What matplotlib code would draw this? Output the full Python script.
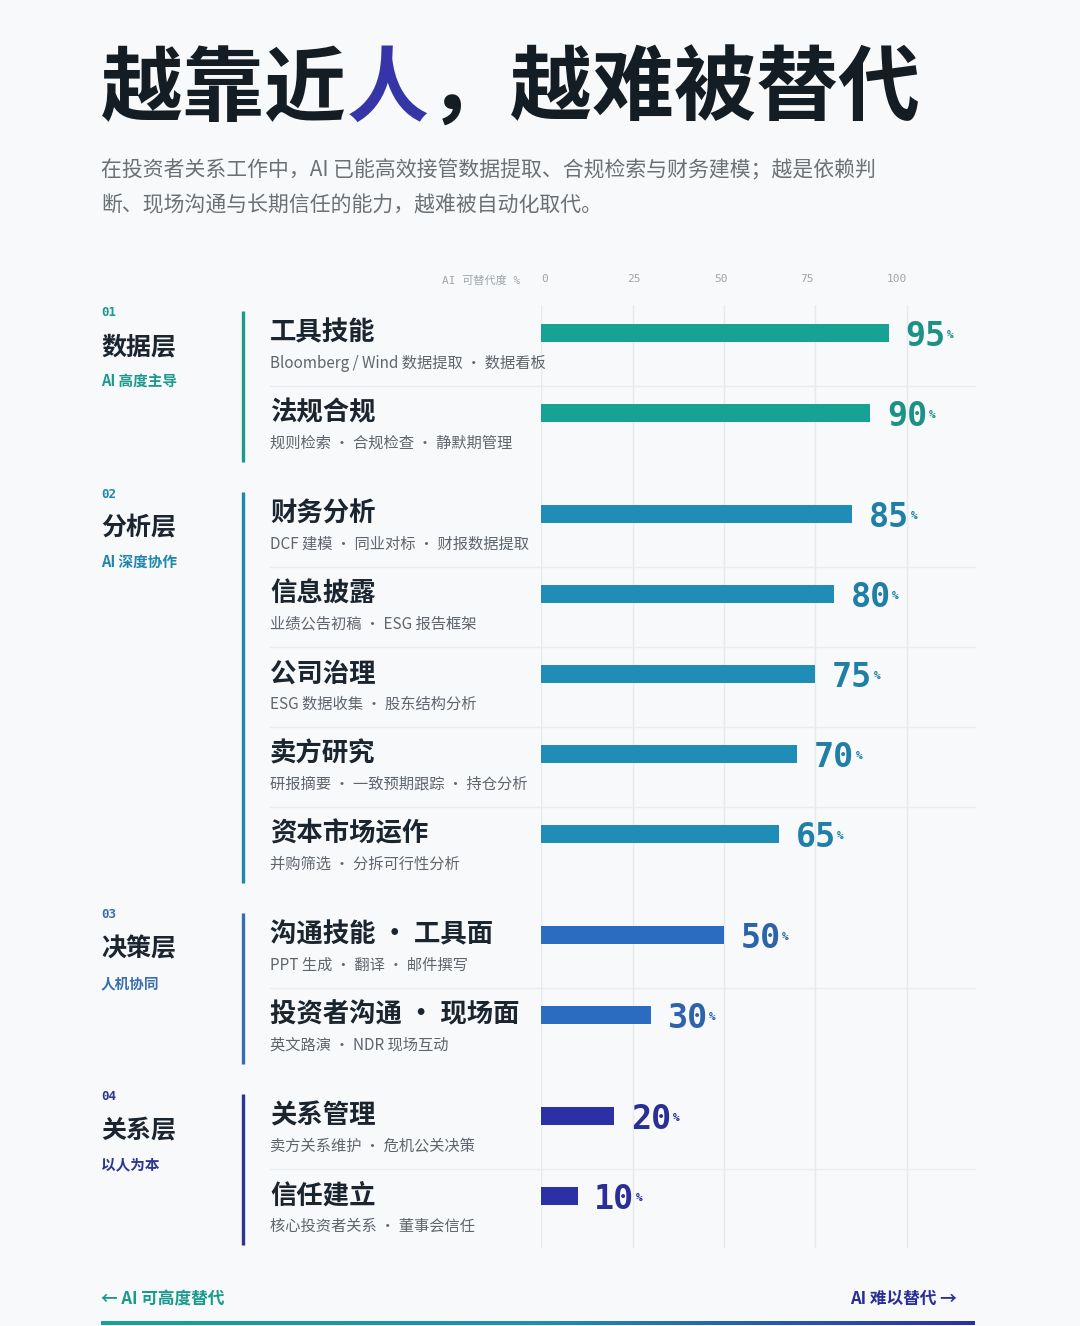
import matplotlib.pyplot as plt
import matplotlib.transforms as mtransforms
from matplotlib.colors import LinearSegmentedColormap
import numpy as np

plt.rcParams['font.family'] = ['Noto Sans CJK SC', 'DejaVu Sans']

W, H = 1080, 1326
BG = '#f7f9fa'
MONO = ['DejaVu Sans Mono', 'Noto Sans CJK SC']

# ---- data ----
group_codes = ['01', '02', '03', '04']
group_names = ['数据层', '分析层', '决策层', '关系层']
group_notes = ['AI 高度主导', 'AI 深度协作', '人机协同', '以人为本']
group_sizes = [2, 5, 2, 2]

skills = ['工具技能', '法规合规', '财务分析', '信息披露', '公司治理', '卖方研究',
          '资本市场运作', '沟通技能 · 工具面', '投资者沟通 · 现场面', '关系管理', '信任建立']
details = ['Bloomberg / Wind 数据提取 · 数据看板',
           '规则检索 · 合规检查 · 静默期管理',
           'DCF 建模 · 同业对标 · 财报数据提取',
           '业绩公告初稿 · ESG 报告框架',
           'ESG 数据收集 · 股东结构分析',
           '研报摘要 · 一致预期跟踪 · 持仓分析',
           '并购筛选 · 分拆可行性分析',
           'PPT 生成 · 翻译 · 邮件撰写',
           '英文路演 · NDR 现场互动',
           '卖方关系维护 · 危机公关决策',
           '核心投资者关系 · 董事会信任']
scores = [95, 90, 85, 80, 75, 70, 65, 50, 30, 20, 10]
ticks = [0, 25, 50, 75, 100]

bar_colors = ['#17a393', '#1f8db8', '#2b6cc0', '#2b30a6']
value_colors = ['#1d9185', '#1f7fa6', '#2c63ab', '#2a2e96']
line_colors = ['#1a9a8c', '#1f86b0', '#3a6db0', '#2c3590']

# row positions (in row units, extra gap between groups)
group_of_row = np.repeat(np.arange(len(group_sizes)), group_sizes)
ys = np.arange(len(scores)) + 0.2625 * group_of_row

fig = plt.figure(figsize=(W / 100, H / 100), dpi=100, facecolor=BG)

# bar axes: 0 at x=541px, 100 at x=907px
ax = fig.add_axes([541 / W, (H - 1248) / H, 434 / W, 943 / H])
ax.set_facecolor('none')
ax.set_xlim(0, 100 * 434 / 366)
ax.set_ylim(11.4375, -0.35)
for s in ax.spines.values():
    s.set_visible(False)
ax.set_yticks([])
ax.set_xticks(ticks)
ax.set_xticklabels([])
ax.tick_params(axis='x', length=0)
ax.grid(axis='x', color='#e6eaed', lw=1)
ax.set_axisbelow(True)

# tick labels sit on a slightly tighter spacing than the grid, left aligned
xtrans = mtransforms.blended_transform_factory(ax.transData, fig.transFigure)
for t in ticks:
    ax.text(t * 0.945, 1 - 279 / H, str(t), transform=xtrans, ha='left', va='center',
            fontsize=8, fontfamily=MONO, color='#a0a5aa')

row_colors = [bar_colors[g] for g in group_of_row]
ax.barh(ys, scores, height=0.225, color=row_colors, zorder=3)

# value labels
for v, y, g in zip(scores, ys, group_of_row):
    num = ax.annotate(f'{v}', xy=(v, y), xytext=(12, -2.5), textcoords='offset points',
                      ha='left', va='center', fontsize=24, fontweight='bold',
                      fontfamily=MONO, color=value_colors[g])
    ax.annotate('%', xy=(1, 0.5), xycoords=num, xytext=(1, 1), textcoords='offset points',
                ha='left', va='center', fontsize=8, fontweight='bold',
                fontfamily=MONO, color=value_colors[g])

trans = mtransforms.blended_transform_factory(fig.transFigure, ax.transData)

# row texts and separators
for i, (name, det, y) in enumerate(zip(skills, details, ys)):
    ax.text(270 / W, y, name, transform=trans, ha='left', va='center',
            fontsize=19, fontweight='bold', color='#1b2530')
    ax.text(270 / W, y + 0.375, det, transform=trans, ha='left', va='center',
            fontsize=11, color='#5f656b')
    last_in_group = i == len(scores) - 1 or group_of_row[i + 1] != group_of_row[i]
    if not last_in_group:
        ax.plot([270 / W, 975 / W], [y + 0.6625, y + 0.6625], transform=trans,
                color='#e9edf0', lw=1, clip_on=False, zorder=1)

# group labels and vertical lines
start = 0
for g, size in enumerate(group_sizes):
    y0 = ys[start]
    y1 = ys[start + size - 1]
    ax.text(101 / W, y0 - 0.25, group_codes[g], transform=trans, ha='left', va='center',
            fontsize=9, fontweight='bold', fontfamily=MONO, color=line_colors[g])
    ax.text(101 / W, y0 + 0.175, group_names[g], transform=trans, ha='left', va='center',
            fontsize=18, fontweight='bold', color='#1b2530')
    ax.text(101 / W, y0 + 0.6, group_notes[g], transform=trans, ha='left', va='center',
            fontsize=10.5, fontweight='bold', color=line_colors[g])
    ax.plot([243 / W, 243 / W], [y0 - 0.275, y1 + 0.6125], transform=trans,
            color=line_colors[g], lw=2.4, clip_on=False, solid_capstyle='butt')
    start += size

# axis header
fig.text(520 / W, 1 - 281 / H, 'AI 可替代度 %', ha='right', va='center',
         fontsize=8, fontfamily=MONO, color='#a0a5aa')

# title, with "人" highlighted
t1 = fig.text(101 / W, 1 - 91 / H, '越靠近', ha='left', va='center',
              fontsize=59, fontweight='heavy', color='#141c24')
t2 = fig.text(0, 0, '', fontsize=1)
t2 = plt.annotate('人', xy=(1, 0), xycoords=t1, ha='left', va='bottom',
                  fontsize=59, fontweight='heavy', color='#3535a8',
                  annotation_clip=False)
plt.annotate('，越难被替代', xy=(1, 0), xycoords=t2, ha='left', va='bottom',
             fontsize=59, fontweight='heavy', color='#141c24', annotation_clip=False)

# subtitle
fig.text(101 / W, 1 - 170 / H,
         '在投资者关系工作中，AI 已能高效接管数据提取、合规检索与财务建模；越是依赖判',
         ha='left', va='center', fontsize=15, color='#6b7075')
fig.text(101 / W, 1 - 205 / H, '断、现场沟通与长期信任的能力，越难被自动化取代。',
         ha='left', va='center', fontsize=15, color='#6b7075')

# footer
fig.text(101 / W, 1 - 1299 / H, '← AI 可高度替代', ha='left', va='center',
         fontsize=12, fontweight='bold', color='#1a9a8c')
fig.text(957 / W, 1 - 1299 / H, 'AI 难以替代 →', ha='right', va='center',
         fontsize=12, fontweight='bold', color='#2a2e96')

gax = fig.add_axes([101 / W, (H - 1325) / H, 874 / W, 4 / H])
cmap = LinearSegmentedColormap.from_list('grad', ['#17a393', '#1f8db8', '#2b30a6'])
gax.imshow(np.linspace(0, 1, 256)[None, :], aspect='auto', cmap=cmap)
gax.axis('off')

fig.savefig('out.png', dpi=100, facecolor=BG)
